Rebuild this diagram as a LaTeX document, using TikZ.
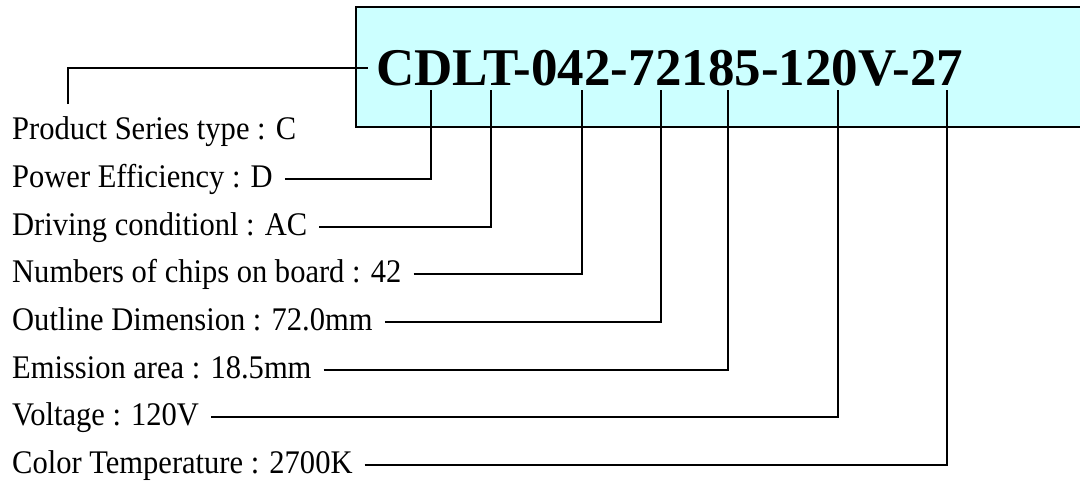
\documentclass[tikz,border=0pt]{standalone}
\usepackage{fontspec}
\setmainfont{Liberation Serif}
\newfontfamily\labelfont[FakeStretch=0.925]{Liberation Serif}
\usetikzlibrary{positioning}
\definecolor{codebg}{HTML}{CCFFFF}

\begin{document}
\begin{tikzpicture}[
  x=1pt,
  y=-1pt,
  leader/.style={draw=black, line width=1.5pt},
  codebox/.style={draw=black, fill=codebg, line width=1.5pt},
  codetext/.style={anchor=base west, inner xsep=8pt, inner ysep=0pt, font=\bfseries\fontsize{53}{56}\selectfont},
  spec/.style={anchor=base west, inner xsep=12pt, inner ysep=0pt, text height=23pt, text depth=7pt, font=\labelfont\fontsize{33}{36}\selectfont}
]
  \useasboundingbox (0,0) rectangle (1080,483);
  \clip (0,0) rectangle (1080,483);

  % Part number banner.
  \draw[codebox] (356,7) rectangle (1090,127);
  \node[codetext] (code) at (368,85) {CDLT-042-72185-120V-27};

  % Tick points under the part number.
  \coordinate (pC) at (68,104);
  \coordinate (tD) at (431,90);
  \coordinate (tT) at (491,90);
  \coordinate (tChips) at (582,90);
  \coordinate (tOutline) at (661,90);
  \coordinate (tArea) at (728,90);
  \coordinate (tVolt) at (838,90);
  \coordinate (tTemp) at (947,90);

  % Specification labels.
  \node[spec] (series) at (0,139) {Product Series type : C};
  \node[spec] (power) at (0,187) {Power Efficiency : D};
  \node[spec] (driving) at (0,235) {Driving conditionl : AC};
  \node[spec] (chips) at (0,282) {Numbers of chips on board : 42};
  \node[spec] (outline) at (0,330) {Outline Dimension : 72.0mm};
  \node[spec] (area) at (0,378) {Emission area : 18.5mm};
  \node[spec] (volt) at (0,425) {Voltage : 120V};
  \node[spec] (temp) at (0,473) {Color Temperature : 2700K};

  % Leaders.
  \draw[leader] (pC) |- (code.west);
  \draw[leader] (power.east) -| (tD);
  \draw[leader] (driving.east) -| (tT);
  \draw[leader] (chips.east) -| (tChips);
  \draw[leader] (outline.east) -| (tOutline);
  \draw[leader] (area.east) -| (tArea);
  \draw[leader] (volt.east) -| (tVolt);
  \draw[leader] (temp.east) -| (tTemp);
\end{tikzpicture}
\end{document}
